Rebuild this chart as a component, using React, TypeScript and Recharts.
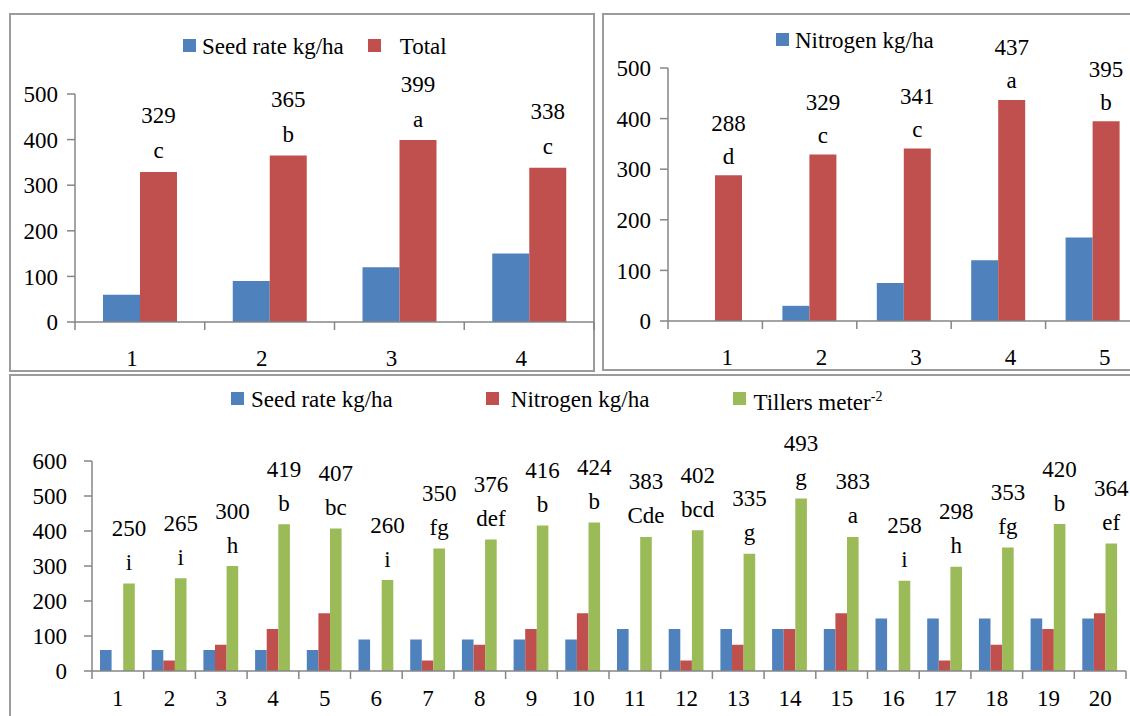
import { BarChart, Bar, XAxis, YAxis, Legend, LabelList } from 'recharts'

// top left: seed rate
const seedCats = ['1', '2', '3', '4']
const seedRate = [60, 90, 120, 150]
const seedTotal = [329, 365, 399, 338]
const seedLetters = ['c', 'b', 'a', 'c']

// top right: nitrogen
const nitroCats = ['1', '2', '3', '4', '5']
const nitrogen = [0, 30, 75, 120, 165]
const nitroTotal = [288, 329, 341, 437, 395]
const nitroLetters = ['d', 'c', 'c', 'a', 'b']

// bottom: combinations
const comboCats = ['1', '2', '3', '4', '5', '6', '7', '8', '9', '10', '11', '12', '13', '14', '15', '16', '17', '18', '19', '20']
const comboSeed = [60, 60, 60, 60, 60, 90, 90, 90, 90, 90, 120, 120, 120, 120, 120, 150, 150, 150, 150, 150]
const comboNitrogen = [0, 30, 75, 120, 165, 0, 30, 75, 120, 165, 0, 30, 75, 120, 165, 0, 30, 75, 120, 165]
const tillers = [250, 265, 300, 419, 407, 260, 350, 376, 416, 424, 383, 402, 335, 493, 383, 258, 298, 353, 420, 364]
const tillerLetters = ['i', 'i', 'h', 'b', 'bc', 'i', 'fg', 'def', 'b', 'b', 'Cde', 'bcd', 'g', 'g', 'a', 'i', 'h', 'fg', 'b', 'ef']

const ticks500 = [0, 100, 200, 300, 400, 500]
const ticks600 = [0, 100, 200, 300, 400, 500, 600]

const FONT = "Liberation Serif, Times New Roman, Times, DejaVu Serif, serif"
const FS = 23
const AXIS = '#868686'
const BLUE = '#4F81BD'
const RED = '#C0504D'
const GREEN = '#9BBB59'

const seedData = seedCats.map((c, i) => ({ cat: c, seed: seedRate[i], total: seedTotal[i] }))
const nitroData = nitroCats.map((c, i) => ({ cat: c, nitro: nitrogen[i], total: nitroTotal[i] }))
const comboData = comboCats.map((c, i) => ({ cat: c, seed: comboSeed[i], nitro: comboNitrogen[i], tillers: tillers[i] }))

function makeTick(bandW: number, count: number, dx: number, dy: number) {
  return (props: any) => {
    const { x, y, payload } = props
    return (
      <g>
        <line x1={x - bandW / 2} y1={y} x2={x - bandW / 2} y2={y + 8} stroke={AXIS} strokeWidth={1.5} />
        {payload.index === count - 1 && (
          <line x1={x + bandW / 2} y1={y} x2={x + bandW / 2} y2={y + 8} stroke={AXIS} strokeWidth={1.5} />
        )}
        <text x={x + dx} y={y + dy} textAnchor="middle" dominantBaseline="central" style={{ fontFamily: FONT }} fontSize={FS} fill="#000">
          {payload.value}
        </text>
      </g>
    )
  }
}

function stackedLabel(letters: string[], numOff: number, letOff: number) {
  return (props: any) => {
    const vb = props.viewBox || {}
    const x = props.x ?? vb.x
    const y = props.y ?? vb.y
    const w = props.width ?? vb.width
    const cx = x + w / 2
    return (
      <g>
        <text x={cx} y={y - numOff} textAnchor="middle" dominantBaseline="central" style={{ fontFamily: FONT }} fontSize={FS} fill="#000">
          {props.value}
        </text>
        <text x={cx} y={y - letOff} textAnchor="middle" dominantBaseline="central" style={{ fontFamily: FONT }} fontSize={FS} fill="#000">
          {letters[props.index]}
        </text>
      </g>
    )
  }
}

type Item = { name: string; color: string; sup?: string }

function legendContent(items: Item[], gaps: number[], textGaps: number[]) {
  return () => (
    <div style={{ display: 'flex', alignItems: 'center', fontFamily: FONT, fontSize: FS, lineHeight: '26px', color: '#000', whiteSpace: 'nowrap' }}>
      {items.map((p, i) => (
        <div key={i} style={{ display: 'flex', alignItems: 'center', marginRight: gaps[i] ?? 0 }}>
          <span style={{ display: 'inline-block', width: 13, height: 13, background: p.color, marginRight: textGaps[i] ?? 6, marginTop: -3 }} />
          <span>
            {p.name}
            {p.sup && <sup style={{ fontSize: 14 }}>{p.sup}</sup>}
          </span>
        </div>
      ))}
    </div>
  )
}

const yTick = { fontFamily: FONT, fontSize: FS, fill: '#000' }

export default function App() {
  const w1 = 600, m1 = { top: 94, right: 6, left: 0, bottom: 0 }, ya1 = 75
  const band1 = (w1 - m1.right - ya1) / seedCats.length
  const w2 = 546, m2 = { top: 68, right: 6, left: 0, bottom: 0 }, ya2 = 68
  const band2 = (w2 - m2.right - ya2) / nitroCats.length
  const w3 = 1130, m3 = { top: 86, right: 4, left: 0, bottom: 0 }, ya3 = 92
  const band3 = (w3 - m3.right - ya3) / comboCats.length

  return (
    <div style={{ position: 'absolute', left: 0, top: 0, width: 1130, height: 716, overflow: 'hidden', background: '#fff', fontFamily: FONT }}>
      <div style={{ position: 'absolute', left: 9, top: 13, width: 586, height: 359, border: '2px solid #9b9b9b', boxSizing: 'border-box' }} />
      <div style={{ position: 'absolute', left: 602, top: 13, width: 560, height: 358, border: '2px solid #9b9b9b', boxSizing: 'border-box' }} />
      <div style={{ position: 'absolute', left: 9, top: 374, width: 1150, height: 380, border: '2px solid #9b9b9b', boxSizing: 'border-box' }} />

      <div style={{ position: 'absolute', left: 0, top: 0 }}>
        <BarChart width={w1} height={375} data={seedData} margin={m1} barGap={0}>
          <XAxis dataKey="cat" height={53} stroke={AXIS} strokeWidth={1.5} tickLine={false} tickSize={0} tickMargin={0} interval={0}
            tick={makeTick(band1, seedCats.length, -8, 36)} />
          <YAxis width={ya1} domain={[0, 500]} ticks={ticks500} stroke={AXIS} strokeWidth={1.5} tickSize={8} tickMargin={9} tick={yTick} />
          <Legend layout="horizontal" verticalAlign="middle" align="center"
            wrapperStyle={{ top: 34, left: 183, width: 'auto', height: 'auto' }}
            content={legendContent([{ name: 'Seed rate kg/ha', color: BLUE }, { name: 'Total', color: RED }], [24, 0], [6, 19])} />
          <Bar dataKey="seed" name="Seed rate kg/ha" fill={BLUE} barSize={37} isAnimationActive={false} />
          <Bar dataKey="total" name="Total" fill={RED} barSize={37} isAnimationActive={false}>
            <LabelList dataKey="total" content={stackedLabel(seedLetters, 56, 21)} />
          </Bar>
        </BarChart>
      </div>

      <div style={{ position: 'absolute', left: 600, top: 0 }}>
        <BarChart width={w2} height={375} data={nitroData} margin={m2} barGap={0}>
          <XAxis dataKey="cat" height={54} stroke={AXIS} strokeWidth={1.5} tickLine={false} tickSize={0} tickMargin={0} interval={0}
            tick={makeTick(band2, nitroCats.length, 12, 36)} />
          <YAxis width={ya2} domain={[0, 500]} ticks={ticks500} stroke={AXIS} strokeWidth={1.5} tickSize={8} tickMargin={9} tick={yTick} />
          <Legend layout="horizontal" verticalAlign="middle" align="center"
            wrapperStyle={{ top: 28, left: 176, width: 'auto', height: 'auto' }}
            content={legendContent([{ name: 'Nitrogen kg/ha', color: BLUE }], [0], [6])} />
          <Bar dataKey="nitro" name="Nitrogen kg/ha" fill={BLUE} barSize={27} isAnimationActive={false} />
          <Bar dataKey="total" name="Total" fill={RED} barSize={27} isAnimationActive={false}>
            <LabelList dataKey="total" content={stackedLabel(nitroLetters, 52, 19)} />
          </Bar>
        </BarChart>
      </div>

      <div style={{ position: 'absolute', left: 0, top: 375 }}>
        <BarChart width={w3} height={341} data={comboData} margin={m3} barGap={0}>
          <XAxis dataKey="cat" height={45} stroke={AXIS} strokeWidth={1.5} tickLine={false} tickSize={0} tickMargin={0} interval={0}
            tick={makeTick(band3, comboCats.length, 0, 27)} />
          <YAxis width={ya3} domain={[0, 600]} ticks={ticks600} stroke={AXIS} strokeWidth={1.5} tickSize={8} tickMargin={17} tick={yTick} />
          <Legend layout="horizontal" verticalAlign="middle" align="center"
            wrapperStyle={{ top: 9, left: 231, width: 'auto', height: 'auto' }}
            content={legendContent(
              [
                { name: 'Seed rate kg/ha', color: BLUE },
                { name: 'Nitrogen kg/ha', color: RED },
                { name: 'Tillers meter', color: GREEN, sup: '-2' },
              ],
              [93, 84, 0],
              [7, 12, 7],
            )} />
          <Bar dataKey="seed" name="Seed rate kg/ha" fill={BLUE} barSize={11.6} isAnimationActive={false} />
          <Bar dataKey="nitro" name="Nitrogen kg/ha" fill={RED} barSize={11.6} isAnimationActive={false} />
          <Bar dataKey="tillers" name="Tillers meter-2" fill={GREEN} barSize={11.6} isAnimationActive={false}>
            <LabelList dataKey="tillers" content={stackedLabel(tillerLetters, 55, 21)} />
          </Bar>
        </BarChart>
      </div>
    </div>
  )
}
